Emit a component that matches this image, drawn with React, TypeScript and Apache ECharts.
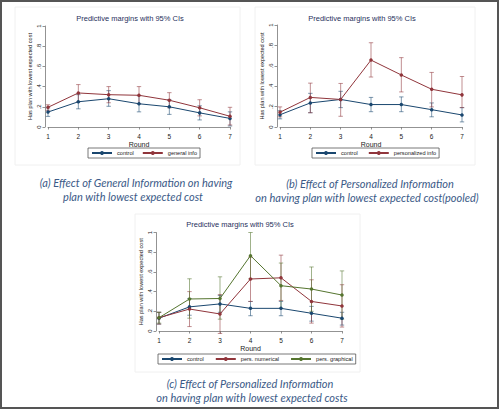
import React, { useEffect, useRef } from "react";
import * as echarts from "echarts";

const rounds = [1, 2, 3, 4, 5, 6, 7];

// Panel (a)
const aControl = [0.148, 0.25, 0.28, 0.23, 0.2, 0.14, 0.085];
const aControlLo = [0.105, 0.18, 0.205, 0.15, 0.125, 0.07, 0.01];
const aControlHi = [0.19, 0.32, 0.36, 0.31, 0.27, 0.21, 0.15];
const aGeneral = [0.195, 0.337, 0.32, 0.314, 0.265, 0.19, 0.106];
const aGeneralLo = [0.165, 0.25, 0.24, 0.23, 0.19, 0.11, 0.02];
const aGeneralHi = [0.22, 0.42, 0.4, 0.4, 0.34, 0.27, 0.195];

// Panel (b)
const bControl = [0.12, 0.236, 0.27, 0.22, 0.22, 0.17, 0.118];
const bControlLo = [0.08, 0.14, 0.19, 0.15, 0.15, 0.1, 0.05];
const bControlHi = [0.16, 0.33, 0.35, 0.29, 0.295, 0.236, 0.19];
const bPers = [0.145, 0.29, 0.27, 0.656, 0.51, 0.37, 0.315];
const bPersLo = [0.1, 0.14, 0.105, 0.49, 0.344, 0.197, 0.19];
const bPersHi = [0.197, 0.43, 0.427, 0.826, 0.68, 0.535, 0.495];

// Panel (c)
const cControl = [0.13, 0.245, 0.275, 0.23, 0.23, 0.18, 0.13];
const cControlLo = [0.07, 0.16, 0.19, 0.155, 0.155, 0.1, 0.06];
const cControlHi = [0.19, 0.33, 0.36, 0.3, 0.3, 0.25, 0.19];
const cNum = [0.135, 0.223, 0.173, 0.528, 0.54, 0.3, 0.254];
const cNumLo = [0.07, 0.045, -0.025, 0.3, 0.31, 0.08, 0.04];
const cNumHi = [0.19, 0.4, 0.37, 0.75, 0.77, 0.52, 0.47];
const cGraph = [0.135, 0.325, 0.33, 0.765, 0.46, 0.426, 0.365];
const cGraphLo = [0.08, 0.13, 0.12, 0.53, 0.23, 0.2, 0.12];
const cGraphHi = [0.19, 0.53, 0.55, 1.0, 0.69, 0.65, 0.61];

const plotTitle = "Predictive margins with 95% CIs";
const yName = "Has plan with lowest expected cost";
const xName = "Round";
const captionA = ["(a) Effect of General Information on having", "plan with lowest expected cost"];
const captionB = ["(b) Effect of Personalized Information", "on having plan with lowest expected cost(pooled)"];
const captionC = ["(c) Effect of Personalized Information", "on having plan with lowest expected costs"];

const NAVY = "#1a476f";
const MAROON = "#90353b";
const GREEN = "#55752f";
const FONT = "Liberation Sans, Arial, sans-serif";

const pts = (vals: number[]) => rounds.map((r, i) => [r, vals[i]]);
const ci = (lo: number[], hi: number[]) => rounds.map((r, i) => [r, lo[i], hi[i]]);

function lineSeries(name: string, vals: number[], color: string, idx: number) {
  return {
    type: "line",
    name,
    xAxisIndex: idx,
    yAxisIndex: idx,
    data: pts(vals),
    symbol: "circle",
    symbolSize: 3.5,
    itemStyle: { color },
    lineStyle: { color, width: 1 },
    z: 3,
  };
}

function ciSeries(name: string, lo: number[], hi: number[], color: string, idx: number) {
  return {
    type: "custom",
    name,
    xAxisIndex: idx,
    yAxisIndex: idx,
    data: ci(lo, hi),
    encode: { x: 0, y: [1, 2] },
    z: 2,
    renderItem: (params: any, api: any) => {
      const x = api.value(0);
      const a = api.coord([x, api.value(1)]);
      const b = api.coord([x, api.value(2)]);
      const cap = 2.2;
      const st = { stroke: color, lineWidth: 0.8, opacity: 0.7 };
      return {
        type: "group",
        children: [
          { type: "line", shape: { x1: a[0], y1: a[1], x2: b[0], y2: b[1] }, style: st },
          { type: "line", shape: { x1: a[0] - cap, y1: a[1], x2: a[0] + cap, y2: a[1] }, style: st },
          { type: "line", shape: { x1: b[0] - cap, y1: b[1], x2: b[0] + cap, y2: b[1] }, style: st },
        ],
      };
    },
  };
}

function xAxis(idx: number) {
  return {
    type: "value",
    gridIndex: idx,
    min: 1,
    max: 7,
    interval: 1,
    offset: 3,
    name: xName,
    nameLocation: "middle",
    nameGap: 11,
    nameTextStyle: { fontSize: 7, color: "#222", fontFamily: FONT },
    axisLine: { lineStyle: { color: "#777", width: 0.8 } },
    axisTick: { length: 2.5, lineStyle: { color: "#777", width: 0.8 } },
    axisLabel: { fontSize: 6.5, color: "#222", margin: 3, fontFamily: FONT },
    splitLine: { show: false },
  };
}

function yAxis(idx: number) {
  return {
    type: "value",
    gridIndex: idx,
    min: 0,
    max: 1,
    interval: 0.2,
    offset: 3,
    name: yName,
    nameLocation: "middle",
    nameRotate: 90,
    nameGap: 12,
    nameTextStyle: { fontSize: 5.6, color: "#222", fontFamily: FONT },
    axisLine: { show: true, lineStyle: { color: "#777", width: 0.8 } },
    axisTick: { show: true, length: 2.5, lineStyle: { color: "#777", width: 0.8 } },
    axisLabel: {
      fontSize: 6,
      color: "#222",
      rotate: 90,
      margin: 3,
      fontFamily: FONT,
      formatter: (v: number) => {
        if (Math.abs(v) < 1e-9) return "0";
        if (Math.abs(v - 1) < 1e-9) return "1";
        return v.toFixed(1).replace(/^0/, "");
      },
    },
    splitLine: { show: false },
  };
}

function legend(left: number, top: number, names: string[], gap: number) {
  return {
    left,
    top,
    orient: "horizontal",
    data: names,
    itemWidth: 20,
    itemHeight: 5,
    itemGap: gap,
    padding: [2, 3, 2, 3],
    borderColor: "#555",
    borderWidth: 0.8,
    backgroundColor: "#fff",
    selectedMode: false,
    textStyle: { fontSize: 5.6, color: "#222", fontFamily: FONT },
  };
}

function text(x: number, y: number, t: string, size: number, color: string, italic = false, family = FONT) {
  return {
    type: "text",
    x,
    y,
    style: {
      text: t,
      fill: color,
      font: `${italic ? "italic " : ""}${size}px ${family}`,
      textAlign: "center",
      textVerticalAlign: "middle",
    },
    z: 10,
  };
}

const CAP_FONT = "Lato, 'Open Sans', sans-serif";
const CAP_COLOR = "#3b5a87";

export default function App() {
  const ref = useRef<HTMLDivElement>(null);
  useEffect(() => {
    if (!ref.current) return;
    const chart = echarts.init(ref.current, undefined, { renderer: "svg" });
    chart.setOption({
      animation: false,
      backgroundColor: "#ffffff",
      grid: [
        { left: 48, top: 26, width: 182, height: 101 },
        { left: 280, top: 25, width: 182, height: 102 },
        { left: 159, top: 232.5, width: 183, height: 98.5 },
      ],
      xAxis: [xAxis(0), xAxis(1), xAxis(2)],
      yAxis: [yAxis(0), yAxis(1), yAxis(2)],
      legend: [
        legend(88, 148, ["control", "general info"], 8),
        legend(312, 148, ["control", "personalized info"], 10),
        legend(158, 354, ["control", "pers. numerical", "pers. graphical"], 11),
      ],
      series: [
        ciSeries("ci a control", aControlLo, aControlHi, NAVY, 0),
        ciSeries("ci a general", aGeneralLo, aGeneralHi, MAROON, 0),
        lineSeries("control", aControl, NAVY, 0),
        lineSeries("general info", aGeneral, MAROON, 0),
        ciSeries("ci b control", bControlLo, bControlHi, NAVY, 1),
        ciSeries("ci b pers", bPersLo, bPersHi, MAROON, 1),
        lineSeries("control", bControl, NAVY, 1),
        lineSeries("personalized info", bPers, MAROON, 1),
        ciSeries("ci c control", cControlLo, cControlHi, NAVY, 2),
        ciSeries("ci c num", cNumLo, cNumHi, MAROON, 2),
        ciSeries("ci c graph", cGraphLo, cGraphHi, GREEN, 2),
        lineSeries("control", cControl, NAVY, 2),
        lineSeries("pers. numerical", cNum, MAROON, 2),
        lineSeries("pers. graphical", cGraph, GREEN, 2),
      ],
      graphic: [
        {
          type: "rect",
          shape: { x: 1, y: 1, width: 497, height: 407 },
          style: { fill: "none", stroke: "#555", lineWidth: 2 },
          z: -1,
        },
        {
          type: "rect",
          shape: { x: 15, y: 7, width: 225, height: 158 },
          style: { fill: "none", stroke: "#f0f0f0", lineWidth: 1 },
          z: -1,
        },
        {
          type: "rect",
          shape: { x: 255, y: 7, width: 220, height: 158 },
          style: { fill: "none", stroke: "#f0f0f0", lineWidth: 1 },
          z: -1,
        },
        {
          type: "rect",
          shape: { x: 135, y: 214, width: 225, height: 158 },
          style: { fill: "none", stroke: "#f0f0f0", lineWidth: 1 },
          z: -1,
        },
        text(130, 18, plotTitle, 7.5, "#1f2f5c"),
        text(362, 18, plotTitle, 7.5, "#1f2f5c"),
        text(240, 224, plotTitle, 7.5, "#1f2f5c"),
        text(136, 182, captionA[0], 11, CAP_COLOR, true, CAP_FONT),
        text(133, 196, captionA[1], 11, CAP_COLOR, true, CAP_FONT),
        text(370, 183, captionB[0], 11, CAP_COLOR, true, CAP_FONT),
        text(367, 197, captionB[1], 11, CAP_COLOR, true, CAP_FONT),
        text(250, 383, captionC[0], 11, CAP_COLOR, true, CAP_FONT),
        text(252, 397, captionC[1], 11, CAP_COLOR, true, CAP_FONT),
      ],
    });
    return () => chart.dispose();
  }, []);
  return (
    <div
      ref={ref}
      style={{ position: "fixed", left: 0, top: 0, width: 500, height: 410 }}
    />
  );
}
